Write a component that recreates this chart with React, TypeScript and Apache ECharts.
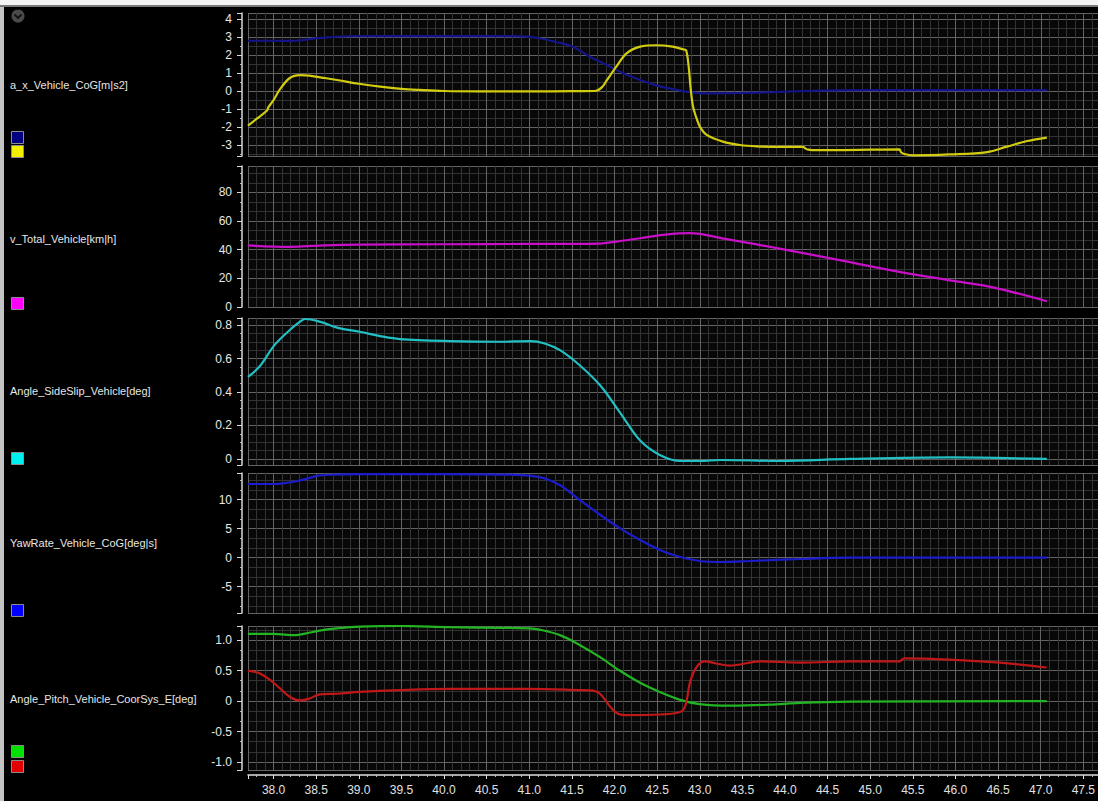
import React, { useEffect, useRef } from "react";
import * as echarts from "echarts";

// ---------- data ----------
const channelNames = [
  "a_x_Vehicle_CoG[m|s2]",
  "v_Total_Vehicle[km|h]",
  "Angle_SideSlip_Vehicle[deg]",
  "YawRate_Vehicle_CoG[deg|s]",
  "Angle_Pitch_Vehicle_CoorSys_E[deg]",
];

const navyT = [37.70, 38.0, 38.22, 38.51, 38.89, 39.5, 40.5, 40.9, 41.12, 41.31, 41.51, 41.71, 41.91, 42.10, 42.30, 42.50, 42.68, 42.88, 43.08, 43.47, 43.86, 44.26, 44.65, 45.5, 46.5, 47.07];
const navyV = [2.79, 2.79, 2.78, 2.93, 3.04, 3.05, 3.05, 3.03, 2.93, 2.72, 2.46, 1.9, 1.44, 0.98, 0.61, 0.3, 0.1, -0.06, -0.13, -0.11, -0.06, 0.0, 0.03, 0.05, 0.05, 0.05];

const accT = [37.70, 37.80, 37.92, 37.94, 38.00, 38.07, 38.19, 38.31, 38.42, 38.60, 38.78, 39.0, 39.25, 39.5, 39.71, 40.0, 40.42, 41.0, 41.5, 41.77, 41.85, 41.91, 42.02, 42.14, 42.30, 42.49, 42.68, 42.81, 42.84, 42.87, 42.89, 42.92, 42.96, 43.00, 43.08, 43.27, 43.47, 43.67, 43.86, 44.21, 44.24, 44.27, 44.32, 44.56, 45.0, 45.34, 45.36, 45.40, 45.50, 45.93, 46.37, 46.60, 46.84, 47.07];
const accV = [-1.92, -1.55, -1.1, -0.9, -0.5, 0.06, 0.72, 0.88, 0.85, 0.72, 0.58, 0.4, 0.24, 0.12, 0.06, 0.0, -0.02, -0.02, -0.01, 0.0, 0.2, 0.61, 1.35, 2.09, 2.46, 2.54, 2.46, 2.3, 2.25, 1.3, 0.24, -0.87, -1.5, -1.98, -2.44, -2.81, -3.0, -3.08, -3.1, -3.1, -3.2, -3.26, -3.28, -3.28, -3.26, -3.24, -3.4, -3.5, -3.57, -3.52, -3.39, -3.09, -2.78, -2.59];

const speedT = [37.70, 37.9, 38.1, 38.3, 38.6, 39.0, 40.0, 41.0, 41.5, 41.8, 42.0, 42.3, 42.6, 42.88, 43.3, 44.0, 44.7, 45.34, 46.0, 46.45, 47.07];
const speedV = [43, 42.3, 42, 42.2, 43, 43.5, 43.8, 44, 44, 44.2, 45.5, 48, 50.5, 51.5, 47.5, 40, 32, 24.5, 18, 13.5, 4];

const slipT = [37.70, 37.84, 38.01, 38.19, 38.31, 38.37, 38.54, 38.78, 39.01, 39.25, 39.48, 40.07, 40.65, 41.01, 41.18, 41.36, 41.59, 41.83, 42.06, 42.30, 42.53, 42.77, 43.00, 43.24, 43.94, 44.76, 45.93, 47.07];
const slipV = [0.49, 0.555, 0.68, 0.77, 0.82, 0.836, 0.82, 0.78, 0.76, 0.734, 0.716, 0.704, 0.70, 0.704, 0.69, 0.65, 0.56, 0.44, 0.28, 0.11, 0.024, -0.012, -0.012, -0.006, -0.012, 0, 0.009, 0];

const yawT = [37.70, 38.0, 38.11, 38.31, 38.51, 38.66, 39.0, 40.0, 40.8, 41.12, 41.36, 41.59, 41.83, 42.06, 42.30, 42.53, 42.77, 43.00, 43.24, 43.59, 44.18, 44.76, 47.07];
const yawV = [12.7, 12.7, 12.8, 13.3, 14.1, 14.3, 14.4, 14.4, 14.3, 13.9, 12.5, 9.95, 7.4, 5.1, 3.05, 1.33, 0.12, -0.57, -0.74, -0.57, -0.22, 0, 0];

const pitchGreenT = [37.70, 38.0, 38.26, 38.37, 38.54, 38.74, 39.01, 39.48, 40.07, 40.65, 41.0, 41.12, 41.36, 41.59, 41.83, 42.06, 42.30, 42.53, 42.77, 43.00, 43.35, 43.82, 44.18, 44.76, 47.07];
const pitchGreenV = [1.1, 1.1, 1.08, 1.105, 1.155, 1.19, 1.22, 1.23, 1.21, 1.2, 1.19, 1.17, 1.08, 0.92, 0.72, 0.5, 0.3, 0.15, 0.02, -0.05, -0.075, -0.06, -0.03, -0.01, 0];

const pitchRedT = [37.70, 37.84, 38.00, 38.19, 38.31, 38.42, 38.54, 38.74, 39.01, 39.48, 40.07, 41.0, 41.59, 41.75, 41.83, 42.0, 42.12, 42.53, 42.77, 42.83, 42.89, 42.97, 43.06, 43.18, 43.35, 43.71, 44.18, 44.76, 45.34, 45.40, 45.93, 46.52, 47.07];
const pitchRedV = [0.5, 0.45, 0.3, 0.07, 0.01, 0.04, 0.11, 0.12, 0.15, 0.18, 0.2, 0.2, 0.18, 0.17, 0.12, -0.17, -0.23, -0.22, -0.18, -0.08, 0.33, 0.57, 0.65, 0.62, 0.58, 0.65, 0.63, 0.65, 0.65, 0.7, 0.68, 0.63, 0.55];

const xMin = 37.7;
const xMax = 47.67;

// ---------- layout / styles ----------
const panels = [
  { top: 13, height: 143, min: -3.61, max: 4.33, split: 8, minor: 2, dec: 0, hideMin: true, hideMax: true },
  { top: 166, height: 141, min: 0, max: 98.4, split: 5, minor: 3, dec: 0, hideMin: false, hideMax: true },
  { top: 318, height: 147, min: -0.036, max: 0.842, split: 4, minor: 4, dec: 1, hideMin: true, hideMax: true },
  { top: 473, height: 140, min: -9.53, max: 14.6, split: 5, minor: 3, dec: 0, hideMin: true, hideMax: true },
  { top: 626, height: 144, min: -1.13, max: 1.23, split: 5, minor: 3, dec: 1, hideMin: true, hideMax: true },
];

const zip = (t: number[], v: number[]) => t.map((x, i) => [x, v[i]]);

const FONT = "'Liberation Sans', Arial, sans-serif";

export default function App() {
  const ref = useRef<HTMLDivElement>(null);
  useEffect(() => {
    if (!ref.current) return;
    const chart = echarts.init(ref.current, undefined, { renderer: "svg" });

    const grids = panels.map((p) => ({
      left: 248,
      right: 0,
      top: p.top,
      height: p.height,
      show: true,
      backgroundColor: "#080808",
      borderWidth: 0,
    }));

    const xAxes = panels.map((p, i) => {
      const last = i === panels.length - 1;
      return {
        type: "value",
        gridIndex: i,
        min: xMin,
        max: xMax,
        splitNumber: 20,
        offset: last ? 5 : 0,
        axisLine: { show: last, onZero: false, lineStyle: { color: "#e0e0e0", width: 1.5 } },
        axisTick: { show: last, length: 4, lineStyle: { color: "#e0e0e0" } },
        minorTick: { show: last, splitNumber: 5, length: 2, lineStyle: { color: "#bbbbbb" } },
        axisLabel: {
          show: last,
          color: "#e0e0e0",
          fontFamily: FONT,
          fontSize: 12,
          margin: 9,
          showMinLabel: false,
          showMaxLabel: false,
          formatter: (v: number) => v.toFixed(1),
        },
        splitLine: { show: true, lineStyle: { color: "#636363", width: 1 } },
        minorSplitLine: { show: true, lineStyle: { color: "#333333", width: 1 } },
      };
    });

    const yAxes = panels.map((p, i) => ({
      type: "value",
      gridIndex: i,
      min: p.min,
      max: p.max,
      splitNumber: p.split,
      offset: 6,
      axisLine: { show: true, lineStyle: { color: "#d8d8d8", width: 1.5 } },
      axisTick: { show: true, length: 5, lineStyle: { color: "#d8d8d8" } },
      minorTick: { show: true, splitNumber: p.minor, length: 2, lineStyle: { color: "#bbbbbb" } },
      axisLabel: {
        color: "#e8e8e8",
        fontFamily: FONT,
        fontSize: 12,
        margin: 10,
        showMinLabel: !p.hideMin,
        showMaxLabel: !p.hideMax,
        formatter: (v: number) => (Math.abs(v) < 1e-9 ? "0" : v.toFixed(p.dec)),
      },
      splitLine: { show: true, lineStyle: { color: "#636363", width: 1 } },
      minorSplitLine: { show: true, lineStyle: { color: "#333333", width: 1 } },
    }));

    const line = (name: string, idx: number, data: number[][], color: string) => ({
      name,
      type: "line",
      xAxisIndex: idx,
      yAxisIndex: idx,
      data,
      showSymbol: false,
      smooth: 0.35,
      lineStyle: { color, width: 2.2 },
      itemStyle: { color },
      z: 3,
    });

    const series = [
      line("a_x_ref", 0, zip(navyT, navyV), "#14148a"),
      line("a_x_Vehicle_CoG", 0, zip(accT, accV), "#d2cc10"),
      line("v_Total_Vehicle", 1, zip(speedT, speedV), "#c810c8"),
      line("Angle_SideSlip_Vehicle", 2, zip(slipT, slipV), "#22c0c4"),
      line("YawRate_Vehicle_CoG", 3, zip(yawT, yawV), "#1c1ccc"),
      line("Angle_Pitch_green", 4, zip(pitchGreenT, pitchGreenV), "#22b422"),
      line("Angle_Pitch_red", 4, zip(pitchRedT, pitchRedV), "#c01818"),
    ];

    const labelY = [85, 239, 391, 543, 699];
    const squares: { y: number; color: string }[][] = [
      [{ y: 131, color: "#000080" }, { y: 145, color: "#f0f000" }],
      [{ y: 297, color: "#ff00ff" }],
      [{ y: 452, color: "#00f0f0" }],
      [{ y: 604, color: "#0000ff" }],
      [{ y: 745, color: "#00e000" }, { y: 760, color: "#e00000" }],
    ];

    const graphic: any[] = [
      { type: "rect", shape: { x: 0, y: 0, width: 1098, height: 5 }, style: { fill: "#f4f4f4" }, silent: true },
      { type: "rect", shape: { x: 0, y: 5, width: 1098, height: 2 }, style: { fill: "#7a7a7a" }, silent: true },
      { type: "rect", shape: { x: 0, y: 7, width: 4, height: 794 }, style: { fill: "#c4c4c4" }, silent: true },
      { type: "circle", shape: { cx: 18, cy: 16, r: 6.5 }, style: { fill: "#4a4a4a" }, silent: true },
      {
        type: "polyline",
        shape: { points: [[14.5, 14.5], [18, 18], [21.5, 14.5]] },
        style: { stroke: "#111", lineWidth: 1.8, fill: null },
        silent: true,
      },
    ];
    channelNames.forEach((n, i) => {
      graphic.push({
        type: "text",
        x: 10,
        y: labelY[i],
        style: {
          text: n,
          fill: "#e6e6e6",
          font: `11px ${FONT}`,
          textVerticalAlign: "middle",
          verticalAlign: "middle",
        },
        silent: true,
      });
      squares[i].forEach((s) => {
        graphic.push({
          type: "rect",
          shape: { x: 11.5, y: s.y + 0.5, width: 12, height: 12 },
          style: { fill: s.color, stroke: "#8c8c8c", lineWidth: 1 },
          silent: true,
        });
      });
    });

    chart.setOption({
      animation: false,
      backgroundColor: "#000000",
      grid: grids,
      xAxis: xAxes,
      yAxis: yAxes,
      series,
      graphic,
    });

    return () => chart.dispose();
  }, []);

  return (
    <div
      ref={ref}
      style={{ position: "fixed", left: 0, top: 0, width: 1098, height: 801, background: "#000" }}
    />
  );
}
